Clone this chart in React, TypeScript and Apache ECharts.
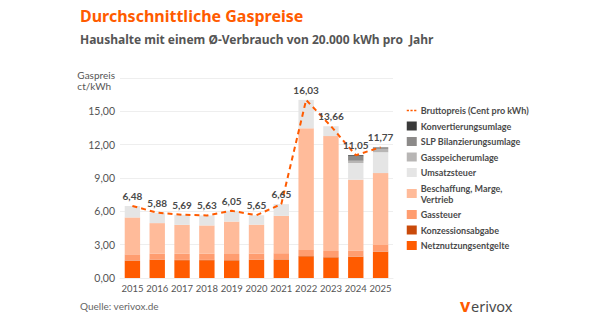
import React, { useEffect, useRef } from "react";
import * as echarts from "echarts";

const years = ["2015", "2016", "2017", "2018", "2019", "2020", "2021", "2022", "2023", "2024", "2025"];
const brutto = [6.48, 5.88, 5.69, 5.63, 6.05, 5.65, 6.65, 16.03, 13.66, 11.05, 11.77];
const netz = [1.55, 1.62, 1.6, 1.6, 1.58, 1.62, 1.65, 1.95, 1.85, 1.9, 2.35];
const konzession = [0.03, 0.03, 0.03, 0.03, 0.03, 0.03, 0.03, 0.03, 0.03, 0.03, 0.03];
const gassteuer = [0.55, 0.55, 0.55, 0.55, 0.55, 0.55, 0.55, 0.55, 0.55, 0.55, 0.6];
const beschaffung = [3.32, 2.74, 2.6, 2.55, 2.92, 2.6, 3.36, 10.94, 10.34, 6.37, 6.46];
const umsatzsteuer = [1.03, 0.94, 0.91, 0.9, 0.97, 0.85, 1.06, 2.56, 0.89, 1.5, 1.88];
const gasspeicher = [0, 0, 0, 0, 0, 0, 0, 0, 0, 0.2, 0.3];
const slp = [0, 0, 0, 0, 0, 0, 0, 0, 0, 0.4, 0.15];
const konvertierung = [0, 0, 0, 0, 0, 0, 0, 0, 0, 0.1, 0];
const yTicks = [0, 3, 6, 9, 12, 15, 18];

const TFONT = "'Noto Sans', 'Open Sans', sans-serif";
const FONT = "Lato, 'Noto Sans', sans-serif";
const ORANGE = "#ff5b00";
const fmt = (v: number) => v.toFixed(2).replace(".", ",");

export default function App() {
  const ref = useRef<HTMLDivElement>(null);
  useEffect(() => {
    if (!ref.current) return;
    const chart = echarts.init(ref.current, undefined, { renderer: "svg" });
    const stackDefs = [
      { name: "Netznutzungsentgelte", data: netz, color: ORANGE },
      { name: "Konzessionsabgabe", data: konzession, color: "#c94a0a" },
      { name: "Gassteuer", data: gassteuer, color: "#ff9d70" },
      { name: "Beschaffung, Marge,\nVertrieb", data: beschaffung, color: "#ffbb9a" },
      { name: "Umsatzsteuer", data: umsatzsteuer, color: "#e5e5e5" },
      { name: "Gasspeicherumlage", data: gasspeicher, color: "#b8b6b5" },
      { name: "SLP Bilanzierungsumlage", data: slp, color: "#8c8a89" },
      { name: "Konvertierungsumlage", data: konvertierung, color: "#3a3a3a" },
    ];
    const barSeries = stackDefs.map((d) => ({
      name: d.name,
      type: "bar",
      stack: "total",
      barWidth: "62%",
      data: d.data,
      itemStyle: { color: d.color },
      emphasis: { disabled: true },
    }));
    const lineName = "Bruttopreis (Cent pro kWh)";
    chart.setOption({
      animation: false,
      color: [ORANGE],
      textStyle: { fontFamily: FONT },
      grid: { left: 120, right: 207, top: 78, bottom: 43 },
      legend: {
        orient: "vertical",
        left: 401,
        top: 100,
        itemWidth: 10,
        itemHeight: 9,
        itemGap: 4.5,
        selectedMode: false,
        textStyle: { fontSize: 9, color: "#4a4a4a", fontWeight: "bold", lineHeight: 11, fontFamily: FONT, padding: [0, 0, 0, -1] },
        data: [
          {
            name: lineName,
            itemStyle: { opacity: 0 },
            lineStyle: { color: ORANGE, width: 1.5, type: [2.2, 1.5], opacity: 1 },
          },
          ...stackDefs
            .slice()
            .reverse()
            .map((d) => ({ name: d.name, icon: "rect" })),
        ],
      },
      xAxis: {
        type: "category",
        data: years,
        axisTick: { show: false },
        axisLine: { lineStyle: { color: "#eeeeee" } },
        axisLabel: { color: "#555", fontSize: 9.5, margin: 5, interval: 0 },
      },
      yAxis: {
        type: "value",
        min: yTicks[0],
        max: yTicks[yTicks.length - 1],
        interval: 3,
        splitLine: { lineStyle: { color: "#eeeeee" } },
        axisLabel: {
          color: "#555",
          fontSize: 10.5,
          margin: 5,
          formatter: (v: number) => (v === yTicks[yTicks.length - 1] ? "" : fmt(v)),
        },
      },
      series: [
        ...barSeries,
        {
          name: lineName,
          type: "line",
          data: brutto,
          symbol: "circle",
          symbolSize: 0.01,
          showSymbol: true,
          z: 5,
          color: ORANGE,
          lineStyle: { color: ORANGE, width: 2, type: [5, 4] },
          itemStyle: { color: ORANGE },
          label: {
            show: true,
            position: "top",
            distance: 5,
            color: "#4a4a4a",
            fontSize: 10,
            fontWeight: "bold",
            formatter: (p: any) => fmt(p.value),
          },
        },
      ],
      graphic: [
        {
          type: "text",
          left: 80,
          top: 8,
          style: { text: "Durchschnittliche Gaspreise", fill: ORANGE, font: `bold 16px ${TFONT}` },
        },
        {
          type: "text",
          left: 80,
          top: 33,
          style: { text: "Haushalte mit einem Ø-Verbrauch von 20.000 kWh pro  Jahr", fill: "#555", font: `bold 12px ${TFONT}` },
        },
        {
          type: "text",
          right: 600 - 115,
          top: 69,
          style: { text: "Gaspreis\nct/kWh", fill: "#555", font: `10px ${FONT}`, align: "right", lineHeight: 11 },
        },
        {
          type: "text",
          left: 80,
          top: 301,
          style: { text: "Quelle: verivox.de", fill: "#666", font: `10px ${FONT}` },
        },
        {
          type: "text",
          left: 460,
          top: 296,
          style: { text: "v", fill: ORANGE, font: `bold 18px ${TFONT}` },
        },
        {
          type: "text",
          left: 471,
          top: 298,
          style: { text: "erivox", fill: "#4a4a4a", font: `14.5px ${TFONT}` },
        },
      ],
    });
    return () => chart.dispose();
  }, []);
  return <div ref={ref} style={{ width: 600, height: 321, position: "absolute", left: 0, top: 0 }} />;
}
